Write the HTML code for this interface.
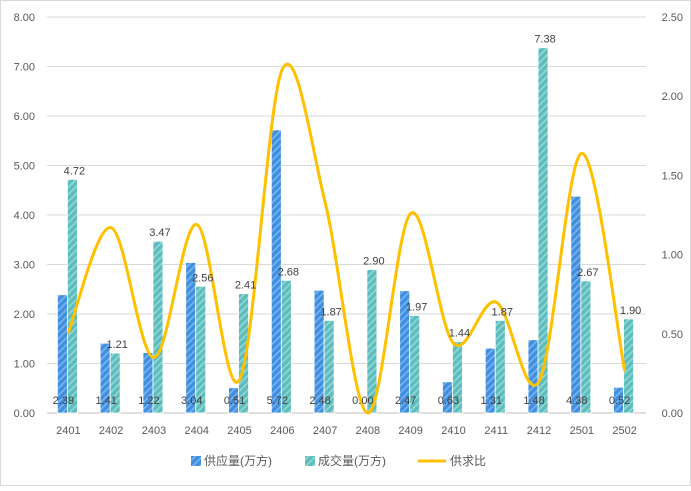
<!DOCTYPE html>
<html><head><meta charset="utf-8"><style>
body{margin:0;background:#fff;}
svg text{font-family:"Liberation Sans","Noto Sans CJK SC",sans-serif;}
</style></head><body>
<svg id="chart" width="691" height="486" xmlns="http://www.w3.org/2000/svg">
<defs>
<pattern id="pb" patternUnits="userSpaceOnUse" width="5" height="5" patternTransform="rotate(45)"><rect width="5" height="5" fill="#3f8fe0"/><rect width="1.6" height="5" fill="#7db4ec"/></pattern>
<pattern id="pt" patternUnits="userSpaceOnUse" width="5" height="5" patternTransform="rotate(45)"><rect width="5" height="5" fill="#5bbdbd"/><rect width="1.6" height="5" fill="#98d6d6"/></pattern>
</defs>
<rect x="0.5" y="0.5" width="690" height="485" fill="#fff" stroke="#d9d9d9"/>
<g id="grid"></g><g id="bars"></g><g id="line"></g><g id="labels"></g><g id="axes"></g>
<g>
<rect x="191" y="456" width="10" height="10" fill="url(#pb)"/>
<text x="204" y="465" font-size="12" fill="#595959">供应量(万方)</text>
<rect x="305" y="456" width="10" height="10" fill="url(#pt)"/>
<text x="318" y="465" font-size="12" fill="#595959">成交量(万方)</text>
<line x1="418" y1="461" x2="446" y2="461" stroke="#ffc000" stroke-width="3"/>
<text x="450" y="465" font-size="12" fill="#595959">供求比</text>
</g>
</svg>
<script>
const categories=["2401","2402","2403","2404","2405","2406","2407","2408","2409","2410","2411","2412","2501","2502"];
const supply=[2.39,1.41,1.22,3.04,0.51,5.72,2.48,0.00,2.47,0.63,1.31,1.48,4.38,0.52];
const deal=[4.72,1.21,3.47,2.56,2.41,2.68,1.87,2.90,1.97,1.44,1.87,7.38,2.67,1.90];
const ratio=[0.51,1.17,0.35,1.19,0.21,2.17,1.33,0.00,1.26,0.44,0.70,0.20,1.64,0.27];
const leftTicks=["0.00","1.00","2.00","3.00","4.00","5.00","6.00","7.00","8.00"];
const rightTicks=["0.00","0.50","1.00","1.50","2.00","2.50"];
const X0=47,X1=646,Y0=413,Y1=17,LMAX=8,RMAX=2.5;
const bw=(X1-X0)/categories.length;
const yL=v=>Y0-(v/LMAX)*(Y0-Y1);
const yR=v=>Y0-(v/RMAX)*(Y0-Y1);
const cx=i=>X0+bw*(i+0.5);
const NS="http://www.w3.org/2000/svg";
function mk(tag,attrs,parent,txt){const e=document.createElementNS(NS,tag);for(const k in attrs)e.setAttribute(k,attrs[k]);if(txt!==undefined)e.textContent=txt;document.getElementById(parent).appendChild(e);return e;}
leftTicks.forEach((t,i)=>{const y=yL(+t);
const g=mk('line',{x1:X0,x2:X1,y1:y,y2:y,stroke:i==0?'#bfbfbf':'#d9d9d9'},'grid');

const l=mk('text',{x:35,y:y+4,'font-size':11,fill:'#595959','text-anchor':'end'},'axes',t);
});
rightTicks.forEach(t=>{const y=yR(+t);
const l=mk('text',{x:683,y:y+4,'font-size':11,fill:'#595959','text-anchor':'end'},'axes',t);
});
categories.forEach((c,i)=>{const x=cx(i);
const b1=mk('rect',{x:x-11,y:yL(supply[i]),width:10,height:Y0-yL(supply[i]),fill:'url(#pb)',stroke:'#fff','stroke-width':0.8},'bars');

const b2=mk('rect',{x:x-1,y:yL(deal[i]),width:10,height:Y0-yL(deal[i]),fill:'url(#pt)',stroke:'#fff','stroke-width':0.8},'bars');

const t1=mk('text',{x:x-5,y:404,'font-size':11,fill:'#404040','text-anchor':'middle'},'labels',supply[i].toFixed(2));

const t2=mk('text',{x:x+6,y:yL(deal[i])-5,'font-size':11,fill:'#404040','text-anchor':'middle'},'labels',deal[i].toFixed(2));

const tc=mk('text',{x:x,y:434,'font-size':11,fill:'#595959','text-anchor':'middle'},'axes',c);
});
const pts=ratio.map((v,i)=>[cx(i),yR(v)]);
let d='M'+pts[0][0]+','+pts[0][1];
for(let i=0;i<pts.length-1;i++){const p0=pts[Math.max(0,i-1)],p1=pts[i],p2=pts[i+1],p3=pts[Math.min(pts.length-1,i+2)];const k=1/6;
d+=' C'+(p1[0]+(p2[0]-p0[0])*k)+','+(p1[1]+(p2[1]-p0[1])*k)+' '+(p2[0]-(p3[0]-p1[0])*k)+','+(p2[1]-(p3[1]-p1[1])*k)+' '+p2[0]+','+p2[1];}
const ln=mk('path',{d:d,fill:'none',stroke:'#ffc000','stroke-width':3,'stroke-linecap':'round'},'line');

</script>
</body></html>
